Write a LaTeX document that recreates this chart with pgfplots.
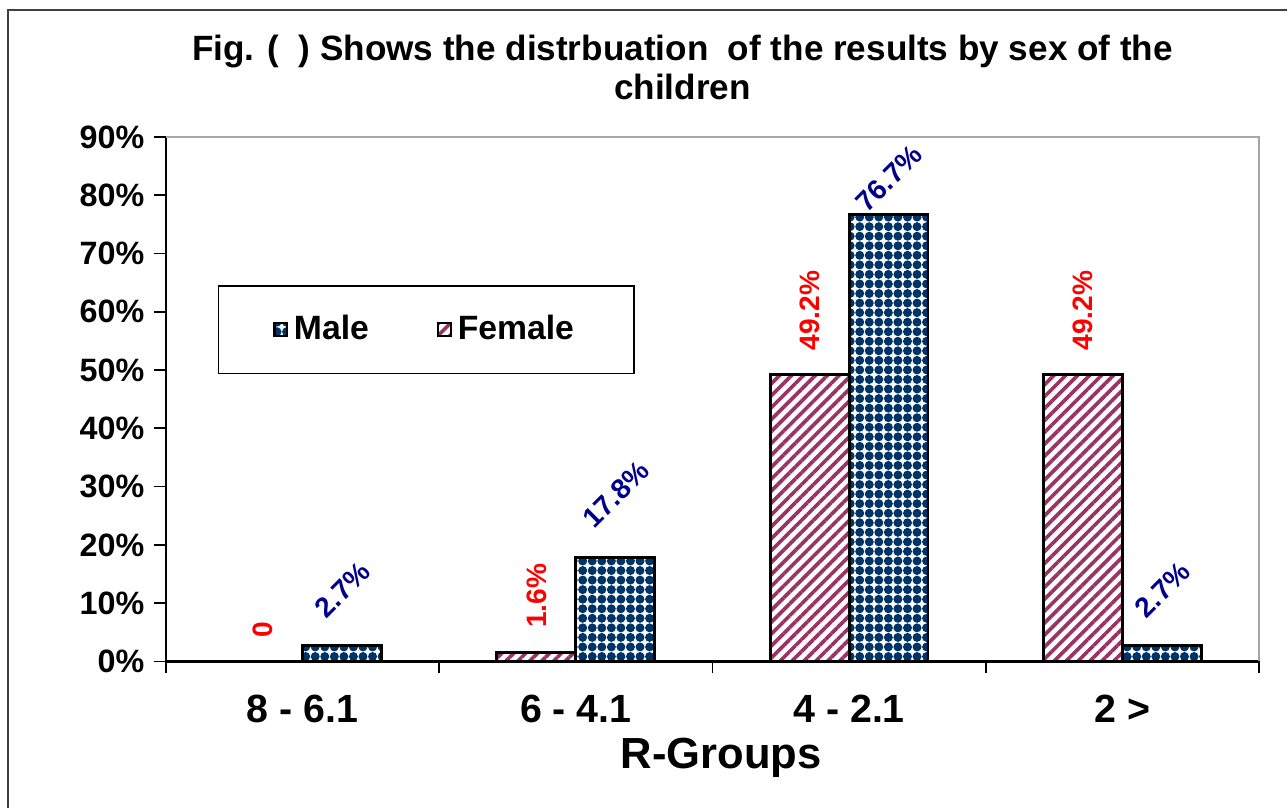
\documentclass[border=0pt]{standalone}
\usepackage{fontspec}
\setmainfont{Liberation Sans}
\usepackage{pgfplots}
\pgfplotsset{compat=1.18}
\usetikzlibrary{patterns.meta}

\definecolor{maleblue}{RGB}{0,51,102}
\definecolor{femalered}{RGB}{153,51,102}
\definecolor{labblue}{RGB}{0,0,140}

\pgfplotstableread{
x y off
0 2.7 0.70
1 17.8 0.79
2 76.7 0.45
3 2.7 0.70
}\maletab

\begin{document}
\begin{tikzpicture}
% page size = 1288 x 809 px at 0.0125cm per px
\path (0,0) rectangle (16.1,10.1125);
\draw[black!75, line width=0.7pt] (0.1,0) -- (0.1,9.9875) -- (16.1,9.9875);

\begin{axis}[
    at={(2.075cm,1.8375cm)}, anchor=south west,
    scale only axis,
    width=13.675cm, height=6.5625cm,
    xmin=-0.5, xmax=3.5, ymin=0, ymax=90,
    clip=false,
    axis x line*=bottom, axis y line*=left,
    axis line style={black, line width=0.8pt},
    /pgf/number format/assume math mode=true,
    xtick={-0.5,0.5,1.5,2.5,3.5},
    xticklabels={},
    extra x ticks={0,1,2,3},
    extra x tick labels={8 - 6.1, 6 - 4.1, 4 - 2.1, 2 >},
    extra x tick style={major tick length=0pt,
        tick label style={font=\fontsize{14}{16}\selectfont\bfseries, yshift=-0.3cm}},
    ytick={0,10,...,90},
    yticklabel={\pgfmathprintnumber{\tick}\%},
    yticklabel style={font=\fontsize{11.5}{14}\selectfont\bfseries},
    tick align=outside,
    major tick length=0.145cm,
    tick style={black, line width=0.6pt},
    xlabel={R-Groups},
    xlabel style={at={(axis description cs:0.508,0)}, anchor=north, inner sep=0pt,
        yshift=-0.95cm, font=\fontsize{15.5}{18}\selectfont\bfseries},
    title={Fig. (\ \ ) Shows the distrbuation \ of the results by sex of the\\children},
    title style={at={(axis description cs:0.4726,1)}, anchor=south, inner sep=0pt,
        yshift=0.24cm, align=center, font=\fontsize{12.5}{14.2}\selectfont\bfseries},
    legend style={at={(axis description cs:0.0475,0.718)}, anchor=north west,
        legend columns=2, draw=black, line width=0.6pt,
        inner xsep=0.68cm, inner ysep=0.3cm,
        font=\fontsize{12}{14}\selectfont\bfseries,
        /tikz/every even column/.append style={column sep=0.78cm}},
    legend image code/.code={\draw[#1, line width=0.9pt] (0cm,-0.08cm) rectangle (0.16cm,0.08cm);},
]

\addplot[ybar, bar width=0.9875cm, bar shift=0.49375cm,
    draw=black, line width=1pt,
    pattern={Dots[distance=3.4pt, radius=1.6pt]}, pattern color=maleblue,
    visualization depends on={\thisrow{off} \as \laboff},
    point meta=y,
    nodes near coords={\pgfmathprintnumber[fixed,fixed zerofill,precision=1]{\pgfplotspointmeta}\%},
    nodes near coords style={xshift=0.5cm, yshift=\laboff cm, anchor=center, rotate=45,
        text=labblue, font=\fontsize{10}{12}\selectfont\bfseries},
] table[x=x, y=y] {\maletab};

\addplot[ybar, bar width=0.9875cm, bar shift=-0.49375cm,
    draw=black, line width=1pt,
    pattern={Lines[angle=45, distance=3pt, line width=1.3pt]}, pattern color=femalered,
    point meta=explicit symbolic,
    nodes near coords,
    nodes near coords style={xshift=-0.49375cm, yshift=0.17cm, anchor=west, rotate=90,
        text=red, font=\fontsize{10}{12}\selectfont\bfseries},
] coordinates {(0,0) [0] (1,1.6) [1.6\%] (2,49.2) [49.2\%] (3,49.2) [49.2\%]};

\legend{Male, Female}

\draw[gray!70, line width=0.8pt] (rel axis cs:0,1) -- (rel axis cs:1,1) -- (rel axis cs:1,0);
\end{axis}
\end{tikzpicture}
\end{document}
